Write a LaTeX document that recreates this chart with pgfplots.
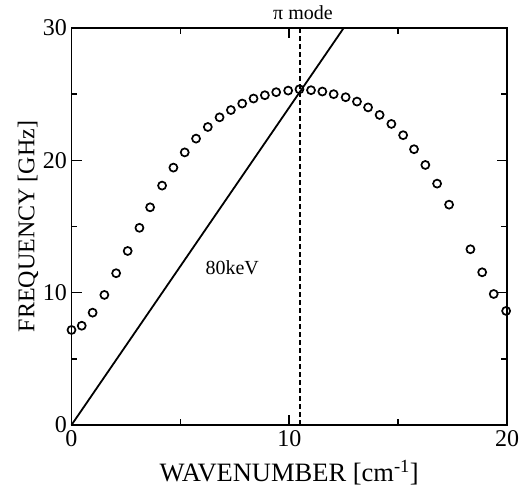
\documentclass[border=0pt]{standalone}
\usepackage{fontspec}
\setmainfont{Liberation Serif}
\usepackage{pgfplots}
\pgfplotsset{compat=1.18}
\begin{document}
\begin{tikzpicture}
\begin{axis}[
  scale only axis,
  width=435.5pt, height=397pt,
  xmin=0, xmax=20, ymin=0, ymax=30,
  xtick={0,10,20}, ytick={0,10,20,30},
  minor xtick={5,15}, minor ytick={5,15,25},
  tick align=inside,
  major tick length=10pt, minor tick length=6pt,
  every tick/.style={black, line width=1.6pt},
  axis line style={line width=1.8pt},
  /pgf/number format/assume math mode=true,
  tick label style={font=\fontsize{24}{26}\selectfont},
  xticklabel style={yshift=-2pt},
  yticklabel style={xshift=-1pt},
  xlabel={WAVENUMBER [cm\textsuperscript{-1}]},
  ylabel={FREQUENCY [GHz]},
  every axis x label/.style={at={(axis description cs:0.5,-0.121)}, anchor=center, font=\fontsize{26.5}{28}\selectfont},
  every axis y label/.style={at={(axis description cs:-0.0999,0.5)}, anchor=center, rotate=90, font=\fontsize{24}{26}\selectfont},
  clip=false,
]
\coordinate (sw) at (rel axis cs:0,0);
\addplot[only marks, mark=o, mark size=4pt, mark options={line width=1.7pt, black}] coordinates {
(0,7.18) (0.47,7.5) (0.97,8.49) (1.51,9.83) (2.05,11.47) (2.58,13.15)
(3.12,14.9) (3.61,16.45) (4.16,18.09) (4.68,19.45) (5.2,20.6) (5.72,21.64)
(6.26,22.52) (6.8,23.25) (7.32,23.8) (7.84,24.29) (8.36,24.67) (8.88,24.92)
(9.4,25.15) (9.95,25.27) (10.47,25.37) (11.0,25.3) (11.52,25.2) (12.04,25.0)
(12.59,24.77) (13.11,24.44) (13.62,24.0) (14.15,23.43) (14.69,22.75) (15.23,21.9)
(15.73,20.84) (16.25,19.65) (16.79,18.24) (17.34,16.65) (18.32,13.28) (18.86,11.54)
(19.39,9.9) (19.96,8.62)
};
\addplot[black, line width=1.8pt] coordinates {(0,0) (12.5,30)};
\addplot[black, line width=1.8pt, dash pattern=on 5pt off 3pt] coordinates {(10.5,0) (10.5,30)};
\node[font=\fontsize{20}{22}\selectfont] at (axis description cs:0.5316,1.038) {π mode};
\node[font=\fontsize{20}{22}\selectfont] at (axis cs:7.38,11.87) {80keV};
\end{axis}
\pgfresetboundingbox
\path[use as bounding box] (sw) ++(-71.5pt,-64pt) rectangle ++(522pt,489pt);
\end{tikzpicture}
\end{document}
